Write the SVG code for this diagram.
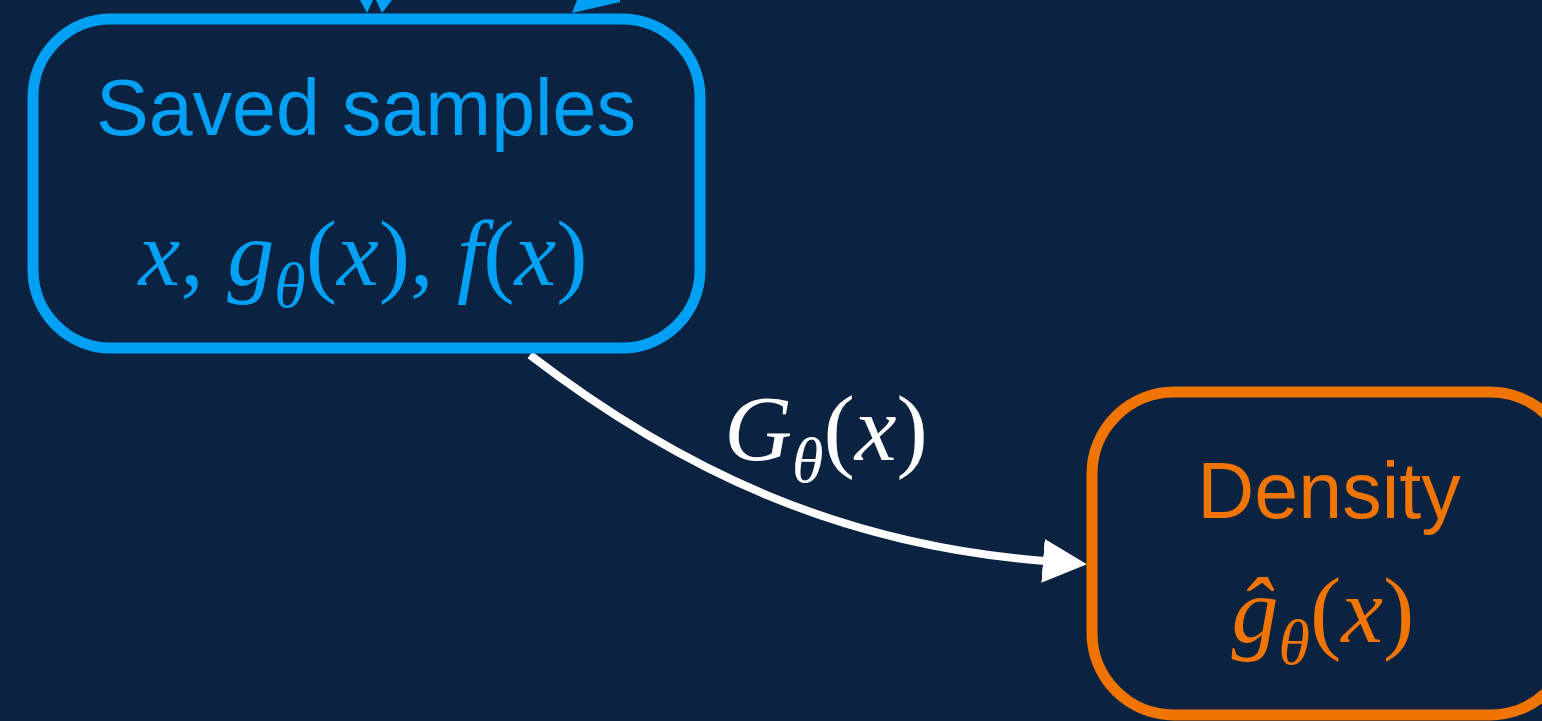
<svg xmlns="http://www.w3.org/2000/svg" width="1542" height="721" viewBox="0 0 1542 721">
<style>
.bg{fill:#0b2240}
.box{fill:#0b2240;stroke-width:11}
.blue{stroke:#00a0f5}
.orange{stroke:#ef7400}
.sans{font-family:"Liberation Sans",Arial,sans-serif;font-size:79px;text-anchor:middle}
.math{font-family:"Liberation Serif","Times New Roman",serif;font-style:italic;font-size:94px;text-anchor:middle}
.up{font-style:normal}
.sub{font-size:64px}
.edge{fill:none;stroke:#ffffff;stroke-width:8}
</style>
<defs>
<marker id="arrW" markerUnits="userSpaceOnUse" markerWidth="50" markerHeight="50" refX="2" refY="22" orient="auto">
<path d="M0,0 L44,22 L0,44 Z" fill="#ffffff"/>
</marker>
</defs>
<rect class="bg" x="0" y="0" width="1542" height="721"/>
<g id="connectors">
<path class="edge" d="M530,355 C680,470 840,545 1045,561" marker-end="url(#arrW)"/>
<polygon points="360,0 367,13 373,0" fill="#00a0f5"/>
<polygon points="376,0 382,13 392,0" fill="#00a0f5"/>
<polygon points="572,13 577,0 620,0 620,2" fill="#00a0f5"/>
<text class="math" x="826" y="460" fill="#ffffff">G<tspan class="sub" dy="22">θ</tspan><tspan class="up" dy="-22">(</tspan>x<tspan class="up">)</tspan></text>
</g>
<g id="saved-samples">
<rect class="box blue" x="33" y="19" width="667" height="329" rx="78" ry="78"/>
<text class="sans" x="366" y="135" fill="#00a0f5">Saved samples</text>
<text class="math" x="363" y="285" fill="#00a0f5">x<tspan class="up">, </tspan>g<tspan class="sub" dy="22">θ</tspan><tspan class="up" dy="-22">(</tspan>x<tspan class="up">), </tspan>f<tspan class="up">(</tspan>x<tspan class="up">)</tspan></text>
</g>
<g id="density">
<rect class="box orange" x="1092" y="392" width="480" height="323" rx="82" ry="82"/>
<text class="sans" x="1329" y="518" fill="#ef7400">Density</text>
<text class="math" x="1323" y="642" fill="#ef7400">ĝ<tspan class="sub" dy="22">θ</tspan><tspan class="up" dy="-22">(</tspan>x<tspan class="up">)</tspan></text>
</g>
</svg>
